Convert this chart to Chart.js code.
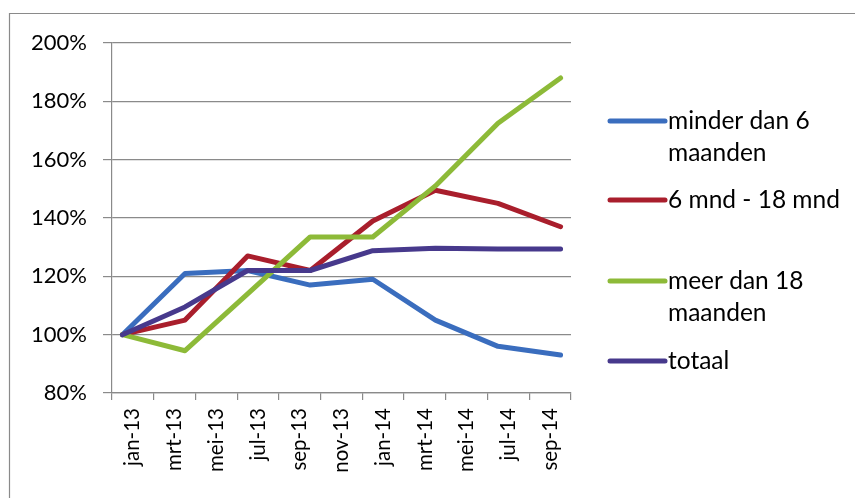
<!DOCTYPE html>
<html>
<head>
<meta charset="utf-8">
<script src="https://cdn.jsdelivr.net/npm/chart.js@4"></script>
<style>
  html, body { margin: 0; padding: 0; background: #fff; }
  #wrap { width: 855px; height: 498px; }
</style>
</head>
<body>
<div id="wrap"><canvas id="trend"></canvas></div>
<script>
// month index (0 = jan-13) of each data point, one per quarter
const pointMonths = [0, 3, 6, 9, 12, 15, 18, 21];
const tickLabels = ["jan-13", "mrt-13", "mei-13", "jul-13", "sep-13", "nov-13",
                    "jan-14", "mrt-14", "mei-14", "jul-14", "sep-14"];

const seriesNames = ["minder dan 6 maanden", "6 mnd - 18 mnd", "meer dan 18 maanden", "totaal"];
const minder6 = [100, 121, 122, 117, 119, 105, 96, 93];
const mnd6tot18 = [100, 105, 127, 122, 139, 149.5, 145, 137];
const meer18 = [100, 94.5, 114, 133.5, 133.5, 151, 172.5, 188];
const totaal = [100, 109.5, 122, 122, 128.8, 129.6, 129.4, 129.4];

const colors = ["#3A6DBE", "#A91E2C", "#8DBA38", "#47398C"];
const FONT = "Lato";

const toPoints = vals => vals.map((v, i) => ({ x: pointMonths[i], y: v }));

// white background and the cropped frame (left + top edge)
const framePlugin = {
  id: "frame",
  beforeDraw(chart) {
    const ctx = chart.ctx;
    ctx.save();
    ctx.fillStyle = "#fff";
    ctx.fillRect(0, 0, chart.width, chart.height);
    ctx.strokeStyle = "#8a8a8a";
    ctx.lineWidth = 1.2;
    ctx.beginPath();
    ctx.moveTo(9.5, chart.height);
    ctx.lineTo(9.5, 13.5);
    ctx.lineTo(chart.width, 13.5);
    ctx.stroke();
    ctx.restore();
  }
};

// Excel style legend on the right, labels wrapped
const legendPlugin = {
  id: "sideLegend",
  afterDraw(chart) {
    const ctx = chart.ctx;
    const x0 = 610, x1 = 665, tx = 668, maxW = 180, lineH = 32;
    const ys = [121, 200, 281, 361];
    ctx.save();
    ctx.font = "24.5px " + FONT;
    ctx.textBaseline = "middle";
    chart.data.datasets.forEach((ds, i) => {
      const y = ys[i];
      ctx.strokeStyle = ds.borderColor;
      ctx.lineWidth = 5;
      ctx.lineCap = "round";
      ctx.beginPath();
      ctx.moveTo(x0, y);
      ctx.lineTo(x1, y);
      ctx.stroke();
      // wrap
      const words = ds.label.split(" ");
      const lines = [];
      let cur = "";
      words.forEach(w => {
        const t = cur ? cur + " " + w : w;
        if (cur && ctx.measureText(t).width > maxW) { lines.push(cur); cur = w; }
        else cur = t;
      });
      lines.push(cur);
      ctx.fillStyle = "#000";
      lines.forEach((l, k) => ctx.fillText(l, tx, y + k * lineH));
    });
    ctx.restore();
  }
};

const datasets = [minder6, mnd6tot18, meer18, totaal].map((vals, i) => ({
  label: seriesNames[i],
  data: toPoints(vals),
  xAxisID: "xm",
  borderColor: colors[i],
  backgroundColor: colors[i],
  borderWidth: 5,
  borderCapStyle: "round",
  borderJoinStyle: "round",
  pointRadius: 0,
  tension: 0,
  order: 3 - i
}));

new Chart(document.getElementById("trend"), {
  type: "line",
  data: { labels: tickLabels, datasets: datasets },
  options: {
    responsive: true,
    maintainAspectRatio: false,
    animation: false,
    layout: { padding: { left: 0, top: 43, right: 284, bottom: 0 } },
    plugins: {
      legend: { display: false },
      tooltip: { enabled: false }
    },
    scales: {
      xm: {
        type: "linear",
        display: false,
        min: -0.5,
        max: 21.5
      },
      x: {
        type: "category",
        offset: true,
        grid: {
          offset: true,
          drawOnChartArea: false,
          color: "#8a8a8a",
          lineWidth: 1.2,
          tickLength: 7
        },
        border: { color: "#8a8a8a", width: 1.2 },
        ticks: {
          autoSkip: false,
          minRotation: 90,
          maxRotation: 90,
          padding: 8,
          color: "#000",
          font: { family: FONT, size: 20.5 }
        },
        afterFit(scale) { scale.height = 105; }
      },
      y: {
        min: 80,
        max: 200,
        grid: {
          color: "#8a8a8a",
          lineWidth: 1.2,
          tickLength: 9
        },
        border: { color: "#8a8a8a", width: 1.2 },
        ticks: {
          stepSize: 20,
          padding: 16,
          color: "#000",
          font: { family: FONT, size: 22 },
          callback: v => v + "%"
        },
        afterFit(scale) { scale.width = 112; }
      }
    }
  },
  plugins: [framePlugin, legendPlugin]
});
</script>
</body>
</html>
